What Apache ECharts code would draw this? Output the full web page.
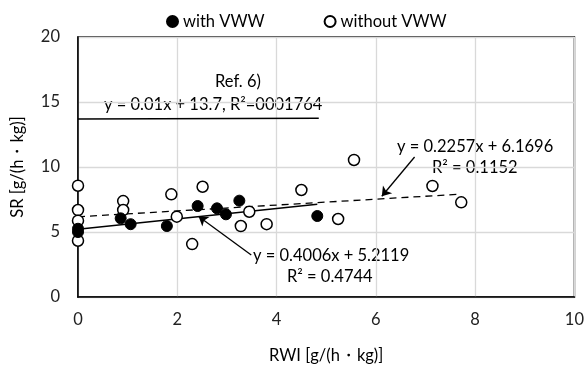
<!DOCTYPE html>
<html><head><meta charset="utf-8">
<script src="https://cdn.jsdelivr.net/npm/echarts@6/dist/echarts.min.js"></script>
<style>html,body{margin:0;padding:0;background:#fff}#c{width:587px;height:369px}</style>
</head><body><div id="c"></div>
<script>
const withX = [0, 0, 0.86, 1.06, 1.79, 2.41, 2.8, 2.98, 3.25, 4.82];
const withY = [5.25, 5.0, 6.05, 5.6, 5.46, 7.0, 6.82, 6.36, 7.41, 6.23];
const withoutX = [0, 0, 0, 0, 0.91, 0.91, 1.88, 1.99, 2.3, 2.51, 3.28, 3.45, 3.8, 4.5, 5.24, 5.56, 7.14, 7.72];
const withoutY = [8.56, 6.69, 5.87, 4.33, 7.38, 6.69, 7.9, 6.18, 4.07, 8.48, 5.46, 6.56, 5.6, 8.23, 6.0, 10.54, 8.54, 7.28];
const fitWith = {slope: 0.4006, intercept: 5.2119, xmin: 0, xmax: 4.82};
const fitWithout = {slope: 0.2257, intercept: 6.1696, xmin: 0, xmax: 7.72};
const fitRef = {slope: 0.01, intercept: 13.7, xmin: 0, xmax: 4.85};
const xTicks = [0, 2, 4, 6, 8, 10];
const yTicks = [0, 5, 10, 15, 20];
const arrowWithout = [[6.78, 10.77], [6.12, 7.75]];
const arrowWith = [[3.49, 3.23], [2.43, 6.2]];

const FONT = 'Lato';
const FS = 16.5;
const fitLine = f => [[f.xmin, f.slope * f.xmin + f.intercept], [f.xmax, f.slope * f.xmax + f.intercept]];
const chart = echarts.init(document.getElementById('c'));
const txt = (x, y, s, align) => ({type: 'text', left: x, top: y - 9, style: {text: s, fill: '#000', font: FS + 'px ' + FONT, textAlign: align || 'left'}});
chart.setOption({
  animation: false,
  textStyle: {fontFamily: FONT},
  grid: {left: 78, right: 10.5, top: 37, bottom: 72, show: true, borderColor: '#000', borderWidth: 1.5},
  legend: {
    top: 8, left: 161, itemWidth: 11, itemHeight: 11, itemGap: 59,
    textStyle: {fontSize: FS, color: '#000', fontFamily: FONT},
    data: [{name: 'with VWW', icon: 'circle'}, {name: 'without VWW', icon: 'circle'}]
  },
  xAxis: {
    type: 'value', min: xTicks[0], max: xTicks[xTicks.length - 1], interval: 2,
    name: 'RWI [g/(h・kg)]', nameLocation: 'middle', nameGap: 50,
    nameTextStyle: {fontSize: FS, color: '#000', fontFamily: FONT},
    axisLine: {lineStyle: {color: '#000', width: 1.5}}, axisTick: {show: false},
    axisLabel: {fontSize: FS, color: '#222', margin: 14},
    splitLine: {lineStyle: {color: '#d9d9d9', width: 1.3}}
  },
  yAxis: {
    type: 'value', min: yTicks[0], max: yTicks[yTicks.length - 1], interval: 5,
    name: 'SR [g/(h・kg)]', nameLocation: 'middle', nameGap: 52,
    nameTextStyle: {fontSize: FS, color: '#000', fontFamily: FONT},
    axisLine: {show: true, lineStyle: {color: '#000', width: 1.5}}, axisTick: {show: false},
    axisLabel: {fontSize: FS, color: '#222', margin: 18},
    splitLine: {lineStyle: {color: '#d9d9d9', width: 1.3}}
  },
  series: [
    {type: 'line', data: fitLine(fitRef), symbol: 'none', lineStyle: {color: '#000', width: 1.5}, z: 3, silent: true},
    {type: 'line', data: fitLine(fitWithout), symbol: 'none', lineStyle: {color: '#000', width: 1.3, type: [7, 5]}, z: 3, silent: true,
      markLine: {symbol: ['none', 'arrow'], symbolSize: 9, silent: true, label: {show: false},
        lineStyle: {color: '#000', width: 1.3, type: 'solid'},
        data: [[{coord: arrowWithout[0]}, {coord: arrowWithout[1]}]]}},
    {type: 'line', data: fitLine(fitWith), symbol: 'none', lineStyle: {color: '#000', width: 1.5}, z: 3, silent: true,
      markLine: {symbol: ['none', 'arrow'], symbolSize: 9, silent: true, label: {show: false},
        lineStyle: {color: '#000', width: 1.3, type: 'solid'},
        data: [[{coord: arrowWith[0]}, {coord: arrowWith[1]}]]}},
    {name: 'without VWW', type: 'scatter', symbol: 'circle', symbolSize: 11, z: 5,
      itemStyle: {color: '#fff', borderColor: '#000', borderWidth: 1.5, opacity: 1},
      data: withoutX.map((x, i) => [x, withoutY[i]])},
    {name: 'with VWW', type: 'scatter', symbol: 'circle', symbolSize: 11, z: 6,
      itemStyle: {color: '#000', borderColor: '#000', borderWidth: 1, opacity: 1},
      data: withX.map((x, i) => [x, withY[i]])}
  ],
  graphic: [
    txt(215, 82, 'Ref. 6)', 'center'),
    txt(104, 105, 'y = 0.01x + 13.7, R²=0001764'),
    txt(397, 147, 'y = 0.2257x + 6.1696'),
    txt(432, 168, 'R² = 0.1152'),
    txt(253, 256, 'y = 0.4006x + 5.2119'),
    txt(287, 277, 'R² = 0.4744')
  ]
});
</script></body></html>
